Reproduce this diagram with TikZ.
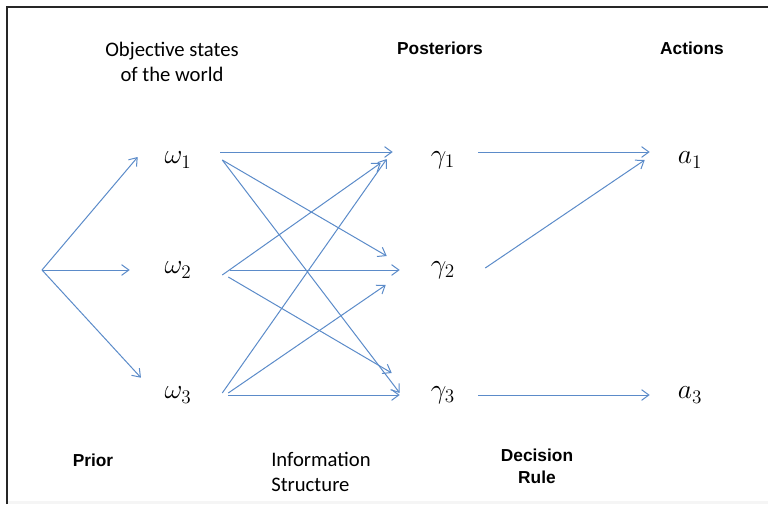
\documentclass[tikz,border=0pt]{standalone}
\usepackage{fontspec}
\setmainfont{Carlito}
\newfontfamily\hlv{Liberation Sans}
\usepackage{xcolor}
\usepackage{tikz}
\usetikzlibrary{arrows.meta,calc}

\begin{document}
\begin{tikzpicture}[
  x=0.75pt, y=-0.75pt,
  arr/.style={-{Straight Barb[length=5.5pt,width=8pt]}, line width=0.75pt, cBlue},
  mstate/.style={minimum width=66pt, minimum height=25.5pt, inner sep=0pt, font=\fontsize{22}{26}\selectfont},
  mpost/.style={minimum width=64.5pt, minimum height=25.5pt, inner sep=0pt, font=\fontsize{22}{26}\selectfont},
  mact/.style={minimum width=60pt, minimum height=25.5pt, inner sep=0pt, font=\fontsize{22}{26}\selectfont},
  plain/.style={font=\fontsize{15.5}{18.75}\selectfont, align=center, inner sep=0pt},
  bold/.style={font=\hlv\bfseries\fontsize{13}{16.5}\selectfont, align=center, inner sep=0pt},
]
\definecolor{cBlue}{HTML}{5B8BC9}
\useasboundingbox (0,0) rectangle (768,504);
\fill[black!4] (8,501) rectangle (768,504);
\draw[line width=1.8pt, black!85] (7,504) -- (7,7) -- (768,7);

% headings
\node[plain] (states) at (172,62) {Objective states\\of the world};
\node[bold] (post) at (440,48) {Posteriors};
\node[bold] (act) at (692,48) {Actions};
\node[bold] (prior) at (93,460) {Prior};
\node[plain, align=left, anchor=west] (info) at (271,472) {Information\\Structure};
\node[bold] (rule) at (537,466) {Decision\\Rule};

% states, posteriors, actions
\node[mstate] (w1) at (178,160) {$\omega_1$};
\node[mstate] (w2) at (178,270) {$\omega_2$};
\node[mstate] (w3) at (178,395) {$\omega_3$};
\node[mpost] (g1) at (443,160) {$\gamma_1$};
\node[mpost] (g2) at (443,270) {$\gamma_2$};
\node[mpost] (g3) at (443,395) {$\gamma_3$};
\node[mact] (a1) at (690,160) {$a_1$};
\node[mact] (a3) at (690,395) {$a_3$};
\coordinate (src) at (42,270);

% prior
\draw[arr] (src) -- ($(w1.west)+(4,-3)$);
\draw[arr] (src) -- ($(w2.west)+(-4,0)$);
\draw[arr] (src) -- (w3.155);

% information structure
\draw[arr] ($(w1.east)+(-2,-8)$) -- ($(g1.west)+(-7,-8)$);
\draw[arr] (w1.east) -- ($(g2.west)+(-13,-14)$);
\draw[arr] (w1.east) -- ($(g3.west)+(0,-2)$);
\draw[arr] ($(w2.east)+(0,5)$) -- ($(g1.west)+(-19,3)$);
\draw[arr] ($(w2.east)+(8,0)$) -- (g2.west);
\draw[arr] ($(w2.east)+(6,7)$) -- ($(g3.west)+(-8,-22)$);
\draw[arr] ($(w3.east)+(0,-2)$) -- ($(g1.west)+(-13,-1)$);
\draw[arr] ($(w3.east)+(6,-2)$) -- ($(g2.west)+(-14,15)$);
\draw[arr] ($(w3.east)+(6,0)$) -- (g3.west);

% decision rule
\draw[arr] ($(g1.east)+(-8,-8)$) -- ($(a1.west)+(0,-8)$);
\draw[arr] ($(g2.east)+(-1,-2)$) -- ($(a1.west)+(-5,0)$);
\draw[arr] ($(g3.east)+(-8,0)$) -- (a3.west);
\end{tikzpicture}
\end{document}
